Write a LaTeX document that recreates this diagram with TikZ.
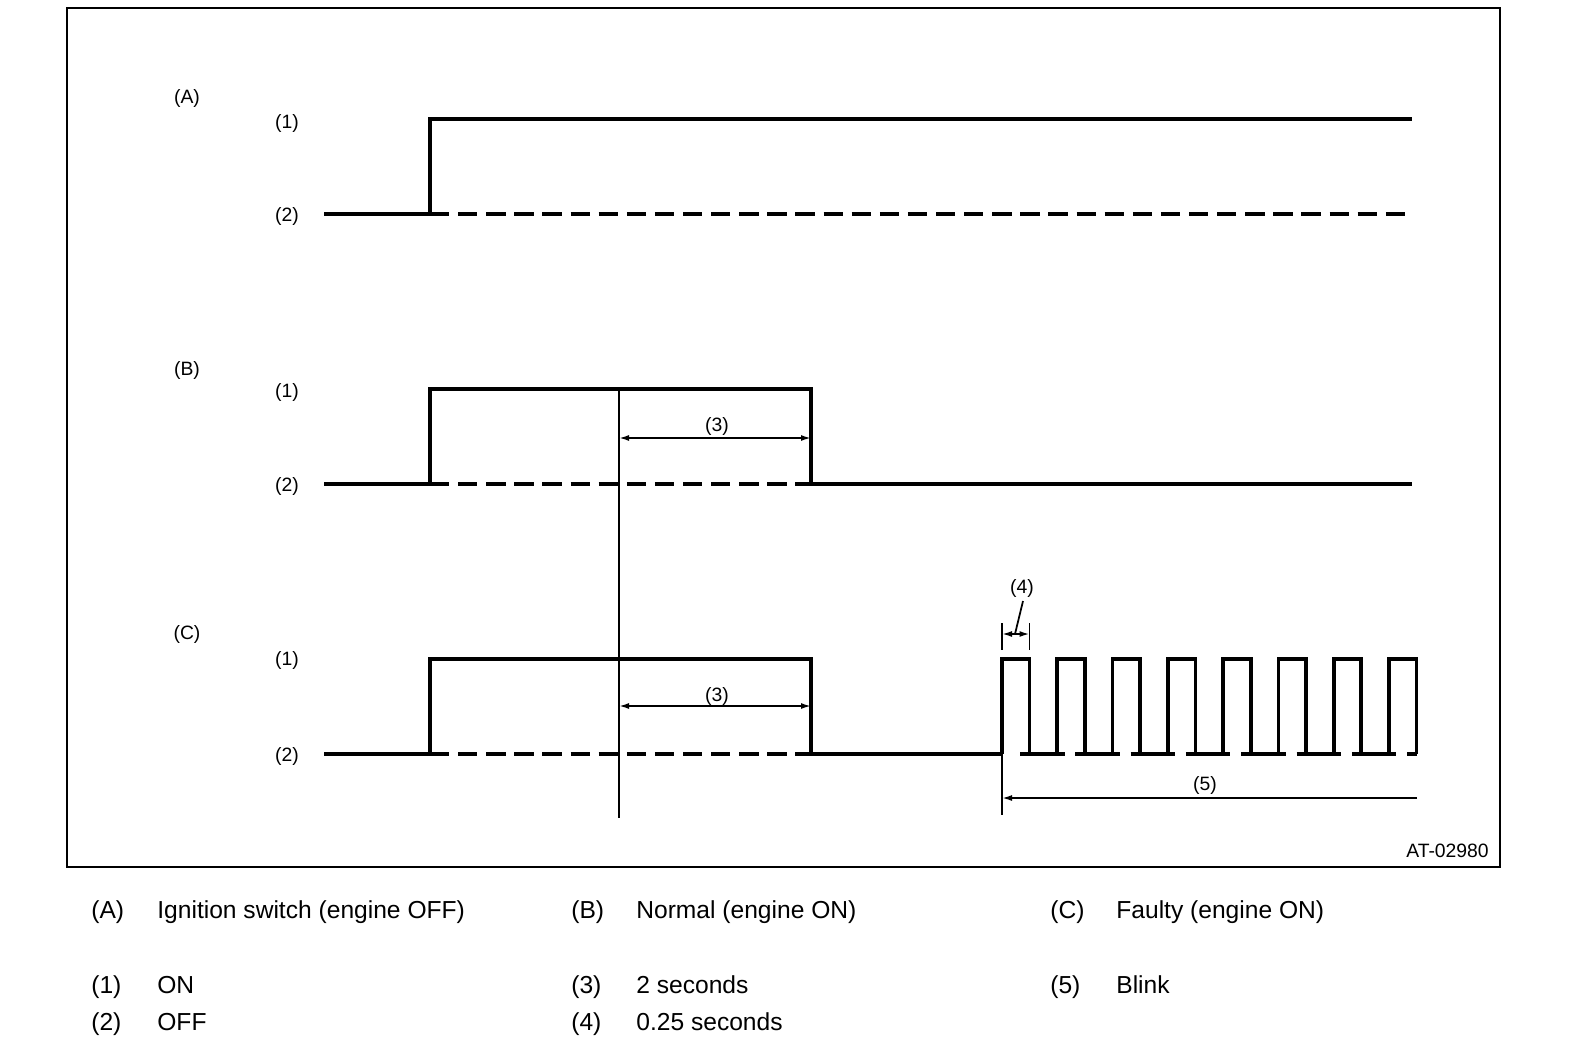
\documentclass[tikz,border=0pt]{standalone}
\usepackage{fontspec}
\setmainfont{Liberation Sans}
\usetikzlibrary{arrows.meta}

\begin{document}
\begin{tikzpicture}[x=0.02cm, y=-0.02cm, >={Latex[length=2mm,width=1.2mm]},
  sig/.style={line width=2.1pt},
  offlvl/.style={line width=2.1pt, dash pattern=on 11pt off 5pt},
  dimline/.style={line width=1pt},
  lbl/.style={font=\fontsize{11}{13}\selectfont, inner sep=0pt},
  leg/.style={font=\fontsize{14}{16}\selectfont, inner sep=0pt, anchor=base west}]
  \useasboundingbox (0,0) rectangle (1584,1058);
  \draw[line width=1.3pt] (67,8) rectangle (1500,867);
  % (A) ignition switch
  \node[lbl] (labA) at (187,98) {(A)};
  \node[lbl] (labA1) at (287,123) {(1)};
  \node[lbl] (labA2) at (287,216) {(2)};
  \draw[sig] (324,214) -- (430,214) -- (430,119) -- (1412,119);
  \draw[offlvl] (430,214) -- (1410,214);
  % (B) normal
  \node[lbl] (labB) at (187,370) {(B)};
  \node[lbl] (labB1) at (287,392) {(1)};
  \node[lbl] (labB2) at (287,486) {(2)};
  \draw[sig] (324,484) -- (430,484) -- (430,389) -- (811,389) -- (811,484) -- (1412,484);
  \draw[offlvl] (430,484) -- (811,484);
  % (C) faulty
  \node[lbl] (labC) at (187,634) {(C)};
  \node[lbl] (labC1) at (287,660) {(1)};
  \node[lbl] (labC2) at (287,756) {(2)};
  \draw[sig] (324,754) -- (430,754) -- (430,659) -- (811,659) -- (811,754) -- (1002,754);
  \draw[offlvl] (430,754) -- (811,754);
  \foreach \i in {0,...,7}{
    \pgfmathsetmacro{\rx}{1002+55.3*\i}
    \pgfmathsetmacro{\fx}{\rx+27.5}
    \draw[sig] (\rx,754) -- (\rx,659) -- (\fx,659) -- (\fx,754);
    \draw[sig] (\rx+18,754) -- (\fx,754);
  }
  \foreach \i in {0,...,6}{
    \pgfmathsetmacro{\fx}{1029.5+55.3*\i}
    \draw[sig] (\fx,754) -- (\fx+35,754);
  }
  % time marker and (3)
  \coordinate (mtop) at (619,389);
  \coordinate (mbot) at (619,818);
  \draw[line width=1.4pt] (mtop) -- (mbot);
  \coordinate (b3a) at (619,438);
  \coordinate (b3b) at (811,438);
  \draw[dimline,<->] (b3a) -- (b3b);
  \node[lbl] (labB3) at (717,426) {(3)};
  \coordinate (c3a) at (619,706);
  \coordinate (c3b) at (811,706);
  \draw[dimline,<->] (c3a) -- (c3b);
  \node[lbl] (labC3) at (717,696) {(3)};
  % (4) pulse width
  \draw[dimline] (1002,623) -- (1002,650);
  \draw[dimline] (1029.5,623) -- (1029.5,650);
  \coordinate (p4a) at (1002,634);
  \coordinate (p4b) at (1029.5,634);
  \draw[dimline,<->] (p4a) -- (p4b);
  \node[lbl] (lab4) at (1022,588) {(4)};
  \coordinate (lead4) at (1015,634);
  \draw[dimline] (1023,601) -- (lead4);
  % (5) blink
  \draw[dimline] (1002,754) -- (1002,815);
  \coordinate (p5a) at (1417,798);
  \coordinate (p5b) at (1002,798);
  \draw[dimline,->] (p5a) -- (p5b);
  \node[lbl] (lab5) at (1205,785) {(5)};
  \node[lbl, anchor=east] (code) at (1489,851) {AT-02980};
  % legend
  \node[leg] (keyA) at (91,918) {(A)};
  \node[leg] (txtA) at (157,918) {Ignition switch (engine OFF)};
  \node[leg] (keyB) at (571,918) {(B)};
  \node[leg] (txtB) at (636,918) {Normal (engine ON)};
  \node[leg] (keyC) at (1050,918) {(C)};
  \node[leg] (txtC) at (1116,918) {Faulty (engine ON)};
  \node[leg] (key1) at (91,993) {(1)};
  \node[leg] (txt1) at (157,993) {ON};
  \node[leg] (key3) at (571,993) {(3)};
  \node[leg] (txt3) at (636,993) {2 seconds};
  \node[leg] (key5) at (1050,993) {(5)};
  \node[leg] (txt5) at (1116,993) {Blink};
  \node[leg] (key2) at (91,1030) {(2)};
  \node[leg] (txt2) at (157,1030) {OFF};
  \node[leg] (key4) at (571,1030) {(4)};
  \node[leg] (txt4) at (636,1030) {0.25 seconds};
\end{tikzpicture}
\end{document}
